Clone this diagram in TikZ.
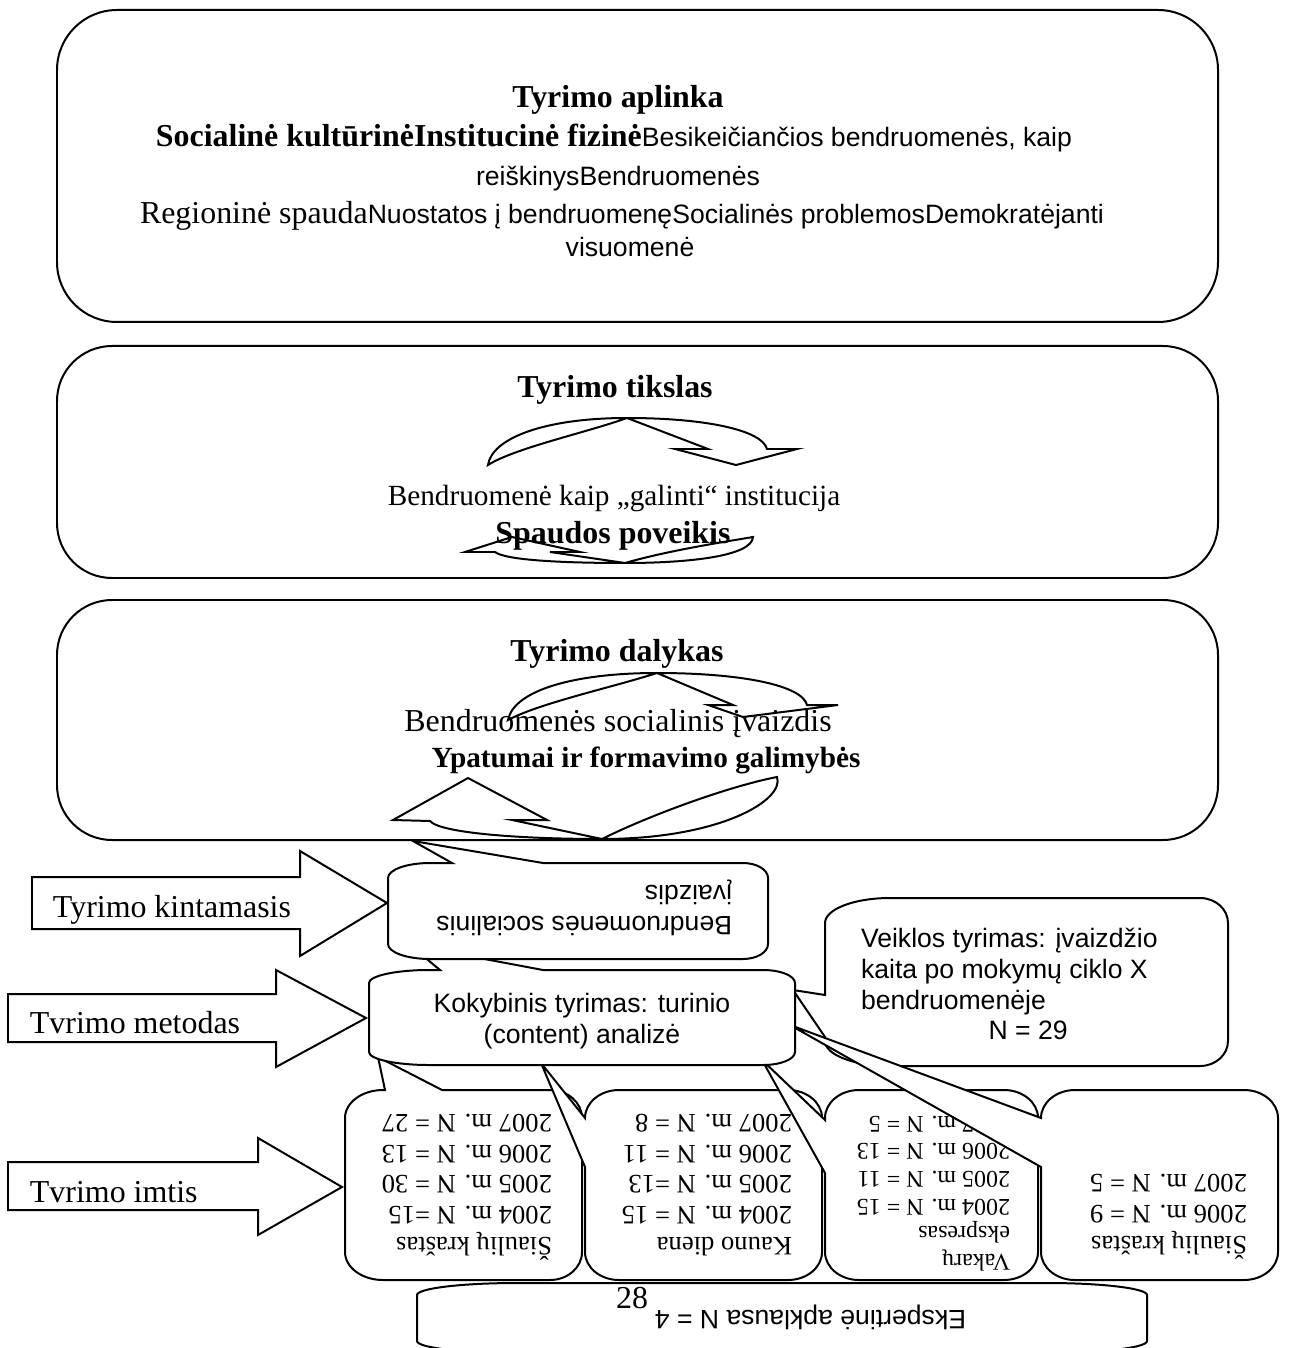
\documentclass[tikz,border=0pt]{standalone}
\usepackage{fontspec}
\setmainfont{Liberation Serif}
\setsansfont{Liberation Sans}
\newcommand{\sanspart}[1]{{\fontsize{10}{11.5}\selectfont\sffamily #1}}
\newcommand{\firststrut}{\rule{0pt}{9pt}}
% box with oval corners: x1,y1,x2,y2, left rx, right rx, ry, points on top edge, points on left edge
\newcommand{\callpath}[9]{%
  (#1+#5,#2) #8 -- (#3-#6,#2)
  .. controls (#3-0.448*#6,#2) and (#3,#2+0.448*#7) .. (#3,#2+#7)
  -- (#3,#4-#7)
  .. controls (#3,#4-0.448*#7) and (#3-0.448*#6,#4) .. (#3-#6,#4)
  -- (#1+#5,#4)
  .. controls (#1+0.448*#5,#4) and (#1,#4-0.448*#7) .. (#1,#4-#7)
  #9 -- (#1,#2+#7)
  .. controls (#1,#2+0.448*#7) and (#1+0.448*#5,#2) .. (#1+#5,#2) -- cycle}

\begin{document}
\begin{tikzpicture}[x=0.376pt, y=-0.376pt, line width=0.75pt,
    bigbox/.style={draw, fill=white},
    callout/.style={draw, fill=white},
    blockarrow/.style={draw, fill=white},
    tnode/.style={inner sep=0pt, anchor=base, font=\fontsize{12}{13.8}\selectfont},
    snode/.style={inner sep=0pt, font=\fontsize{10}{11.5}\selectfont\sffamily},
    rnode/.style={inner sep=0pt, rotate=180, anchor=north west, align=left},
    yearnode/.style={rnode, font=\fontsize{10}{11.5}\selectfont}]

    \useasboundingbox (0,0) rectangle (1288,1348);

    % three frames
    \draw[bigbox] \callpath{57}{10}{1218}{322}{60}{60}{60}{}{};
    \draw[bigbox] \callpath{57}{346}{1218}{578}{55}{55}{55}{}{};
    \draw[bigbox] \callpath{57}{600}{1218}{840}{55}{55}{55}{}{};

    % curved arrows inside the frames
    \draw (488,465) .. controls (492,438) and (545,418) .. (627,418)
        .. controls (705,418) and (762,430) .. (767,449) -- (797,449) -- (736,465)
        -- (675,449) -- (708,449) -- (627,418) .. controls (585,433) and (515,448) .. (488,465) -- cycle;
    \draw (495,552) -- (465,552) -- (512,537) -- (580,552) -- (550,552) -- (625,563)
        .. controls (670,550) and (730,541) .. (753,537)
        .. controls (752,556) and (690,563) .. (625,563)
        .. controls (560,563) and (505,560) .. (495,552) -- cycle;
    \draw (508,720) .. controls (514,690) and (575,673) .. (657,673)
        .. controls (740,673) and (802,685) .. (807,705) -- (838,705) -- (743,717)
        -- (708,705) -- (733,705) -- (657,673) .. controls (610,688) and (540,703) .. (508,720) -- cycle;
    \draw (430,821) -- (393,820) -- (468,778) -- (547,820) -- (512,820) -- (602,839)
        .. controls (650,815) and (730,786) .. (777,777)
        .. controls (785,800) and (720,839) .. (602,839)
        .. controls (520,839) and (440,833) .. (430,821) -- cycle;

    \node[tnode] (aplinka) at (618,108) {\bfseries Tyrimo aplinka};
    \node[tnode] (aplinkaA) at (614,147) {\textbf{Socialinė kultūrinėInstitucinė fizinė}\sanspart{Besikeičiančios bendruomenės, kaip}};
    \node[tnode] (aplinkaB) at (618,186) {\sanspart{reiškinysBendruomenės}};
    \node[tnode] (aplinkaC) at (622,224) {Regioninė spauda\sanspart{Nuostatos į bendruomenęSocialinės problemosDemokratėjanti}};
    \node[tnode] (aplinkaD) at (630,257) {\sanspart{visuomenė}};

    \node[tnode] (tikslas) at (615,398) {\bfseries Tyrimo tikslas};
    \node[tnode, font=\fontsize{11}{12.6}\selectfont] (galinti) at (614,506) {Bendruomenė kaip „galinti“ institucija};
    \node[tnode] (poveikis) at (613,543) {\bfseries Spaudos poveikis};

    \node[tnode] (dalykas) at (617,661) {\bfseries Tyrimo dalykas};
    \node[tnode] (ivaizdis) at (618,731) {Bendruomenės socialinis įvaizdis};
    \node[tnode, font=\fontsize{11}{12.6}\selectfont] (ypatumai) at (646,767) {\bfseries Ypatumai ir formavimo galimybės};

    % block arrows on the left
    \draw[blockarrow] (32,877) -- (300,877) -- (300,851) -- (387,903) -- (300,956) -- (300,929) -- (32,929) -- cycle;
    \draw[blockarrow] (8,994) -- (276,994) -- (276,970) -- (366,1018) -- (276,1067) -- (276,1042) -- (8,1042) -- cycle;
    \draw[blockarrow] (8,1162) -- (258,1162) -- (258,1138) -- (342,1187) -- (258,1235) -- (258,1210) -- (8,1210) -- cycle;
    \node[tnode, anchor=base west] (kintamasis) at (52,917) {Tyrimo kintamasis};
    \node[tnode, anchor=base west] (metodas) at (29,1033) {Tvrimo metodas};
    \node[tnode, anchor=base west] (imtis) at (29,1202) {Tvrimo imtis};

    % callouts
    \draw[callout] \callpath{825}{898}{1228}{1066}{65}{28}{25}{}{-- (825,1037) -- (793,990) -- (825,995)};
    \node[snode, anchor=north west, align=left] (veikla) at (860,923)
        {\firststrut Veiklos tyrimas: įvaizdžio\\ kaita po mokymų ciklo X\\ bendruomenėje\\ \hspace*{48pt}N = 29};

    \draw[callout] \callpath{417}{1283}{1147}{1353}{100}{100}{12}{}{};
    \node[snode, rnode] (ekspert) at (967,1335) {\firststrut Ekspertinė apklausa N = 4};
    \node[tnode] (psl) at (632,1308) {28};

    \draw[callout] \callpath{345}{1090}{582}{1280}{38}{32}{28}{-- (385,1090) -- (378,1057) -- (442,1090)}{};
    \node[yearnode] (siauliaiA) at (553,1262)
        {\firststrut Šiaulių kraštas\\ 2004 m. N =15\\ 2005 m. N = 30\\ 2006 m. N = 13\\ 2007 m. N = 27};
    \draw[callout] \callpath{585}{1090}{822}{1280}{34}{34}{28}{}{-- (585,1167) -- (541,1063) -- (585,1118)};
    \node[yearnode] (kauno) at (793,1262)
        {\firststrut Kauno diena\\ 2004 m. N = 15\\ 2005 m. N =13\\ 2006 m. N = 11\\ 2007 m. N = 8};
    \draw[callout] \callpath{825}{1090}{1038}{1280}{34}{34}{28}{}{-- (825,1173) -- (762,1060) -- (825,1120)};
    \node[yearnode, font=\fontsize{9}{10.35}\selectfont] (vakaru) at (1011,1279)
        {\firststrut Vakarų\\ ekspresas\\ 2004 m. N = 15\\ 2005 m. N = 11\\ 2006 m. N = 13\\ 2007 m. N = 5};
    \draw[callout] \callpath{1041}{1090}{1278}{1280}{34}{34}{28}{}{-- (1041,1167) -- (790,1025) -- (1041,1118)};
    \node[yearnode] (siauliaiB) at (1248,1261)
        {\firststrut Šiaulių kraštas\\ 2006 m. N = 9\\ 2007 m. N = 5};

    \draw[callout] \callpath{369}{970}{795}{1065}{60}{32}{13}{-- (440,970) -- (410,945) -- (543,970)}{};
    \node[snode, anchor=north, align=center] (kokybinis) at (582,988)
        {\firststrut Kokybinis tyrimas: turinio\\ (content) analizė};

    \draw[callout] \callpath{388}{863}{768}{959}{42}{25}{15}{-- (452,863) -- (413,841) -- (543,863)}{};
    \node[snode, rnode] (socvaizdis) at (733,941) {\firststrut Bendruomenės socialinis\\ įvaizdis};
\end{tikzpicture}
\end{document}
